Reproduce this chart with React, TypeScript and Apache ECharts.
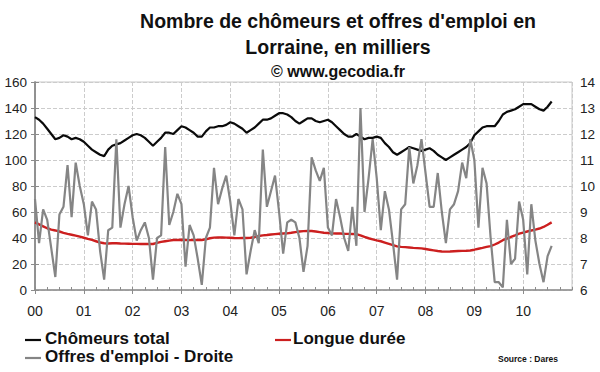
import React, { useEffect, useRef } from "react";
import * as echarts from "echarts";

// Monthly data, Jan 2000 – Aug 2010 (index = months since Jan 2000)
const chomeursTotal: number[] = [
  133, 131, 128, 124, 120, 116, 117, 119, 118, 116, 117, 116,
  114, 111, 108, 106, 104, 103, 108, 111, 112, 113, 115, 117,
  119, 120, 119, 117, 114, 111, 114, 117, 121, 121, 120, 123,
  126, 125, 123, 121, 118, 118, 122, 125, 125, 126, 126, 127,
  129, 128, 126, 124, 121, 123, 125, 128, 131, 131, 132, 134,
  136, 136, 135, 133, 130, 128, 130, 132, 132, 130, 129, 130,
  131, 129, 126, 123, 120, 118, 118, 120, 118, 116, 117, 117,
  118, 117, 113, 110, 106, 104, 106, 108, 110, 109, 108, 107,
  108, 109, 107, 104, 102, 100, 102, 104, 106, 108, 110, 113,
  119, 122, 125, 126, 126, 126, 130, 135, 137, 138, 139, 141,
  143, 143, 143, 141, 139, 138, 141, 145,
];

const longueDuree: number[] = [
  52, 50.5, 49, 47.5, 46.5, 45.8, 45, 44, 43.2, 42.5, 41.8, 41,
  40.2, 39.3, 38.5, 37.5, 36.5, 36, 35.8, 36, 36, 35.8, 35.7, 35.6,
  35.5, 35.5, 35.4, 35.4, 35.4, 35.4, 36.3, 37, 37.5, 38, 38.5, 38.5,
  38.7, 38.5, 38.4, 38.5, 38.5, 38.5, 39, 39.8, 40.3, 40.5, 40.4, 40.3,
  40.2, 40, 39.9, 40, 40, 40.2, 40.8, 41.5, 42, 42.3, 42.7, 43,
  43.3, 43.5, 43.6, 44, 44.5, 45, 45.3, 45.4, 45.4, 45, 44.5, 44,
  43.8, 43.6, 43.5, 43.5, 43.3, 43.2, 43.1, 43, 42, 40.8, 39.8, 39,
  38.2, 37.5, 36.5, 35.5, 34.5, 33.6, 33.2, 33, 32.7, 32.4, 32.2, 32,
  31.5, 31, 30.5, 30, 29.6, 29.5, 29.6, 29.8, 30, 30.1, 30.2, 30.4,
  31, 31.7, 32.4, 33.2, 33.8, 35, 36.5, 38.3, 39.5, 40.8, 42, 43.3,
  44.2, 45, 45.8, 46.5, 47.3, 48.5, 50.2, 52,
];

const offresEmploi: number[] = [
  9.5, 7.8, 9.1, 8.7, 7.6, 6.5, 8.9, 9.2, 10.8, 8.8, 10.9, 10.0,
  9.3, 8.1, 9.4, 9.1, 7.5, 6.4, 8.3, 8.4, 11.8, 8.4, 9.3, 10.0,
  8.8, 7.9, 8.3, 8.6, 8.0, 6.4, 8.0, 8.1, 11.5, 8.5, 9.0, 9.7,
  9.3, 6.9, 8.5, 8.1, 7.2, 6.2, 8.0, 8.4, 10.7, 9.3, 9.9, 10.4,
  9.4, 8.1, 9.5, 9.1, 6.6, 7.5, 8.3, 7.8, 11.4, 9.2, 9.8, 10.4,
  9.0, 7.4, 8.6, 8.7, 8.6, 8.0, 6.7, 7.7, 11.1, 10.6, 10.2, 10.7,
  8.4, 8.1, 9.5, 8.8, 8.0, 7.5, 9.2, 7.7, 13.0, 9.0, 10.3, 11.8,
  10.3, 8.3, 9.8, 9.1, 7.8, 6.4, 9.1, 9.3, 11.5, 10.1, 10.8, 11.8,
  10.5, 9.2, 9.2, 10.5, 9.0, 7.8, 9.1, 9.3, 9.8, 10.9, 10.3, 11.8,
  11.0, 8.4, 10.7, 10.1, 8.0, 6.3, 6.3, 6.1, 8.7, 7.0, 7.2, 9.4,
  8.7, 6.6, 9.3, 7.9, 7.0, 6.3, 7.3, 7.7,
];

const yearLabels: string[] = ["00", "01", "02", "03", "04", "05", "06", "07", "08", "09", "10"];
const titleLines: string[] = ["Nombre de chômeurs et offres d'emploi en", "Lorraine, en milliers"];
const copyrightText = "© www.gecodia.fr";
const legendNames: string[] = ["Chômeurs total", "Longue durée", "Offres d'emploi - Droite"];
const sourceText = "Source : Dares";

const FONT = "'Liberation Sans', Arial, Helvetica, sans-serif";

export default function App() {
  const ref = useRef<HTMLDivElement>(null);

  useEffect(() => {
    if (!ref.current) return;
    const chart = echarts.init(ref.current, undefined, { renderer: "svg" });
    const toPairs = (arr: number[]) => arr.map((v, i) => [i, v]);
    const axisGray = "#8c8c8c";

    const legendText = (x: number, y: number, text: string) => ({
      type: "text",
      left: x,
      top: y - 10,
      style: { text, font: `bold 17px ${FONT}`, fill: "#111" },
    });
    const legendLine = (x: number, y: number, color: string) => ({
      type: "line",
      shape: { x1: x, y1: y, x2: x + 16, y2: y },
      style: { stroke: color, lineWidth: 2.2 },
    });

    chart.setOption({
      animation: false,
      backgroundColor: "#fff",
      title: [
        {
          text: titleLines.join("\n"),
          left: 333,
          top: 3,
          textAlign: "center",
          textStyle: {
            fontFamily: FONT,
            fontWeight: "bold",
            fontSize: 19.5,
            lineHeight: 26,
            color: "#111",
          },
        },
        {
          text: copyrightText,
          left: 333,
          top: 58,
          textAlign: "center",
          textStyle: { fontFamily: FONT, fontWeight: "bold", fontSize: 16, color: "#111" },
        },
      ],
      grid: {
        left: 35,
        right: 28,
        top: 82,
        bottom: 82,
        show: true,
        borderColor: "#c8c8c8",
        borderWidth: 1,
        containLabel: false,
      },
      xAxis: [
        {
          type: "value",
          min: 0,
          max: 132,
          interval: 12,
          axisLine: { show: true, onZero: false, lineStyle: { color: axisGray, width: 1.5 } },
          axisTick: { show: true, inside: false, length: 4, lineStyle: { color: axisGray } },
          axisLabel: {
            margin: 14,
            fontFamily: FONT,
            fontSize: 14,
            color: "#222",
            showMaxLabel: false,
            formatter: (v: number) => yearLabels[Math.round(v / 12)] ?? "",
          },
          splitLine: { show: true, lineStyle: { color: "#cccccc", type: "dashed", width: 1 } },
        },
        {
          type: "value",
          min: 0,
          max: 132,
          interval: 3,
          position: "bottom",
          axisLine: { show: false },
          axisTick: { show: true, inside: true, length: 3, lineStyle: { color: axisGray } },
          axisLabel: { show: false },
          splitLine: { show: false },
        },
      ],
      yAxis: [
        {
          type: "value",
          min: 0,
          max: 160,
          interval: 20,
          position: "left",
          axisLine: { show: true, lineStyle: { color: axisGray, width: 1.5 } },
          axisTick: { show: true, length: 4, lineStyle: { color: axisGray } },
          axisLabel: { margin: 8, fontFamily: FONT, fontSize: 13.5, color: "#222" },
          splitLine: { show: true, lineStyle: { color: "#cccccc", type: "dashed", width: 1 } },
        },
        {
          type: "value",
          min: 6,
          max: 14,
          interval: 1,
          position: "right",
          axisLine: { show: true, lineStyle: { color: axisGray, width: 1.5 } },
          axisTick: { show: true, length: 4, lineStyle: { color: axisGray } },
          axisLabel: { margin: 8, fontFamily: FONT, fontSize: 13.5, color: "#222" },
          splitLine: { show: false },
        },
      ],
      series: [
        {
          name: legendNames[0],
          type: "line",
          xAxisIndex: 0,
          yAxisIndex: 0,
          data: toPairs(chomeursTotal),
          showSymbol: false,
          lineStyle: { color: "#0a0a0a", width: 2.2 },
          z: 3,
        },
        {
          name: legendNames[1],
          type: "line",
          xAxisIndex: 0,
          yAxisIndex: 0,
          data: toPairs(longueDuree),
          showSymbol: false,
          lineStyle: { color: "#cc1f1f", width: 2.4 },
          z: 4,
        },
        {
          name: legendNames[2],
          type: "line",
          xAxisIndex: 0,
          yAxisIndex: 1,
          data: toPairs(offresEmploi),
          showSymbol: false,
          lineStyle: { color: "#858585", width: 2.2 },
          z: 5,
        },
      ],
      graphic: [
        legendLine(25, 340, "#0a0a0a"),
        legendText(45, 340, legendNames[0]),
        legendLine(275, 340, "#cc1f1f"),
        legendText(293, 340, legendNames[1]),
        legendLine(25, 358, "#858585"),
        legendText(45, 358, legendNames[2]),
        {
          type: "text",
          left: 498,
          top: 354,
          style: { text: sourceText, font: `bold 8.5px ${FONT}`, fill: "#111" },
        },
      ],
    });
    return () => chart.dispose();
  }, []);

  return (
    <div
      ref={ref}
      style={{ position: "absolute", left: 0, top: 0, width: 600, height: 372 }}
    />
  );
}
